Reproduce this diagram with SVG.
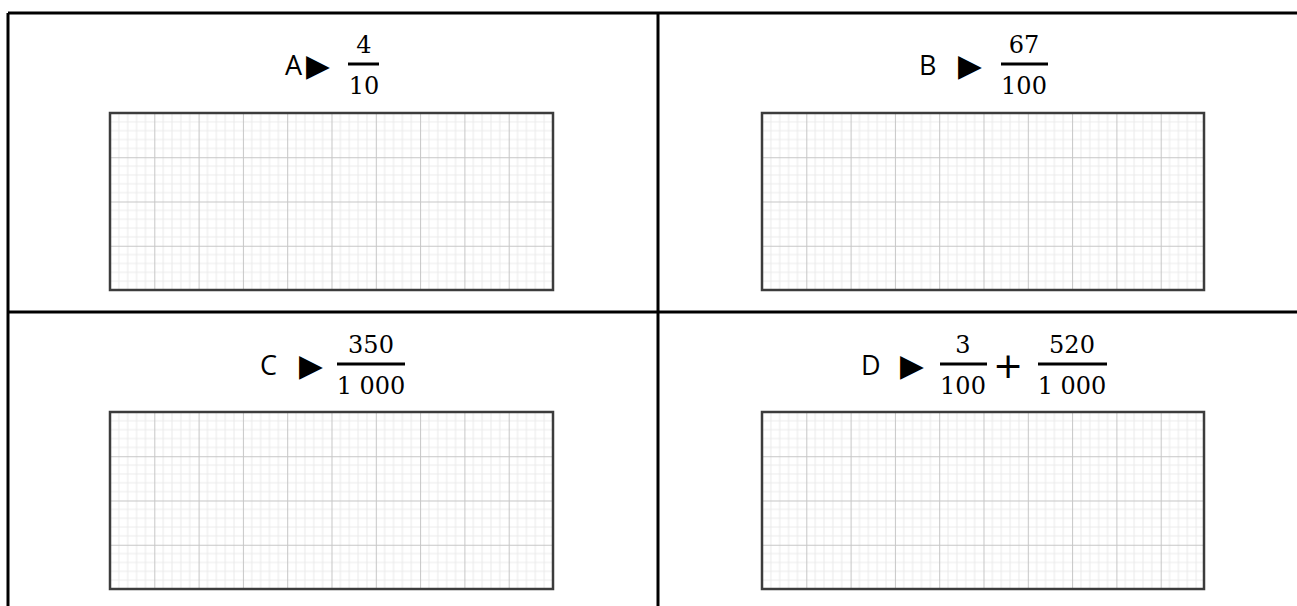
<svg xmlns="http://www.w3.org/2000/svg" width="1297" height="606" viewBox="0 0 1297 606">
<style>
.tbl{stroke:#000;stroke-width:3;fill:none}
.lab{font-family:"Open Sans","Liberation Sans",sans-serif;font-size:27px;fill:#000}
.tri{font-family:"DejaVu Sans",sans-serif;font-size:31px;fill:#000}
.num{font-family:"DejaVu Serif","Liberation Serif",serif;font-size:24px;fill:#000;text-anchor:middle}
.bar{stroke:#000;stroke-width:3}
.plus{font-family:"DejaVu Sans",sans-serif;font-size:36px;fill:#000;text-anchor:middle}
.gbox{fill:url(#grid);stroke:#3c3c3c;stroke-width:2.5}
</style>
<defs>
<pattern id="grid" patternUnits="userSpaceOnUse" x="0" y="0" width="44.3" height="44.25">
<rect width="44.3" height="44.25" fill="#fff"/>
<path d="M8.86 0V44.25M17.72 0V44.25M26.58 0V44.25M35.44 0V44.25M0 8.85H44.3M0 17.7H44.3M0 26.55H44.3M0 35.4H44.3" stroke="#ebebeb" stroke-width="1" fill="none"/>
<path d="M0.5 0V44.25M0 0.5H44.3" stroke="#c6c6c6" stroke-width="1" fill="none"/>
</pattern>
</defs>
<rect width="1297" height="606" fill="#fff"/>
<g id="table">
<path class="tbl" d="M8 13H1297M8 312H1297M8 13V606M658 13V606"/>
</g>
<g id="cell-a">
<text class="lab" x="285" y="75">A</text>
<text class="tri" x="306" y="76">▶</text>
<text class="num" x="364" y="53">4</text>
<line class="bar" x1="348" y1="64" x2="379" y2="64"/>
<text class="num" x="364" y="94">10</text>
<g transform="translate(110,113)"><rect class="gbox" width="443" height="177"/></g>
</g>
<g id="cell-b">
<text class="lab" x="919" y="75">B</text>
<text class="tri" x="958" y="76">▶</text>
<text class="num" x="1024" y="53">67</text>
<line class="bar" x1="1001" y1="64" x2="1048" y2="64"/>
<text class="num" x="1024" y="94">100</text>
<g transform="translate(762,113)"><rect class="gbox" width="442" height="177"/></g>
</g>
<g id="cell-c">
<text class="lab" x="260" y="375">C</text>
<text class="tri" x="299" y="376">▶</text>
<text class="num" x="371" y="353">350</text>
<line class="bar" x1="337" y1="364" x2="405" y2="364"/>
<text class="num" x="371" y="394">1 000</text>
<g transform="translate(110,412)"><rect class="gbox" width="443" height="177"/></g>
</g>
<g id="cell-d">
<text class="lab" x="861" y="375">D</text>
<text class="tri" x="900" y="376">▶</text>
<text class="num" x="963" y="353">3</text>
<line class="bar" x1="940" y1="364" x2="987" y2="364"/>
<text class="num" x="963" y="394">100</text>
<text class="plus" x="1008" y="378">+</text>
<text class="num" x="1072" y="353">520</text>
<line class="bar" x1="1038" y1="364" x2="1107" y2="364"/>
<text class="num" x="1072" y="394">1 000</text>
<g transform="translate(762,412)"><rect class="gbox" width="442" height="177"/></g>
</g>
</svg>
